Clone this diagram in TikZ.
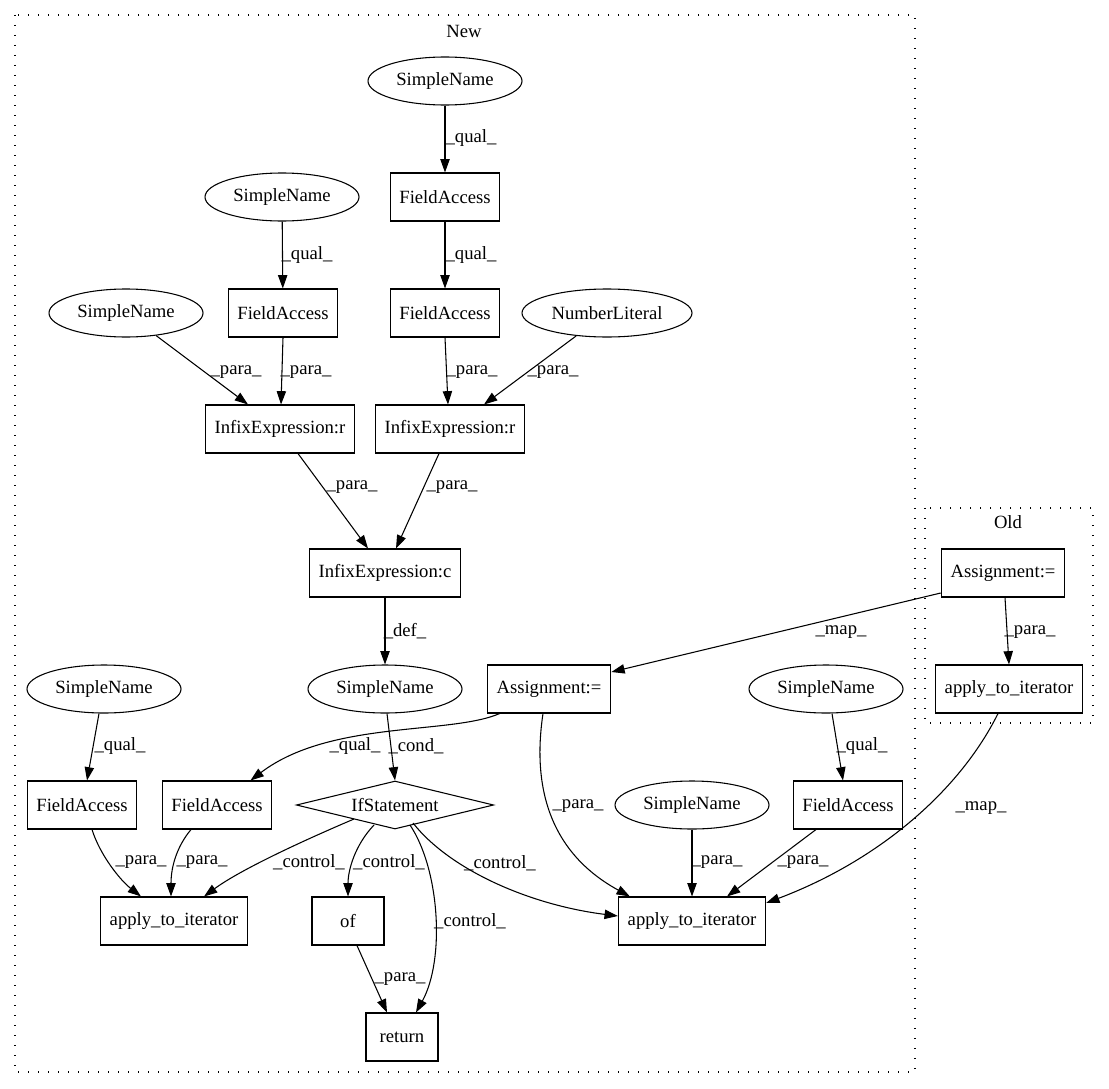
\documentclass[tikz,border=0pt]{standalone}
\usepackage{fontspec}
\setmainfont{Liberation Serif}
\usetikzlibrary{arrows.meta, positioning, shapes.geometric, calc}

\begin{document}
\begin{tikzpicture}[
    x=0.75pt, y=-0.75pt,
    font=\fontsize{14}{16}\selectfont,
    box/.style={rectangle, draw, line width=0.8pt, minimum height=36pt,
                minimum width=54pt, inner xsep=7pt},
    ident/.style={ellipse, draw, line width=0.8pt, minimum height=36pt,
                  minimum width=#1, inner sep=0pt},
    ident/.default=115.5pt,
    cond/.style={diamond, draw, line width=0.8pt, aspect=4, minimum width=148pt,
                 minimum height=36pt, inner sep=0pt},
    flow/.style={-{Triangle[length=10pt, width=7pt]}, line width=0.8pt},
    lbl/.style={inner sep=0pt},
    cluster/.style={draw, line width=1pt, dash pattern=on 1pt off 6.5pt},
  ]
    \useasboundingbox (0,0) rectangle (1109,1088);

    % clusters
    \draw[cluster] (15,15) rectangle (915,1072);
    \node (newTitle) at (464,31) {New};
    \draw[cluster] (925,508) rectangle (1093,723);
    \node (oldTitle) at (1008,522) {Old};

    % New
    \node[ident] (snTop) at (445,81) {SimpleName};
    \node[box] (faTop) at (445,197) {FieldAccess};
    \node[ident] (snA) at (282,197) {SimpleName};
    \node[box] (faA) at (283,313) {FieldAccess};
    \node[box] (faB) at (445,313) {FieldAccess};
    \node[ident] (snB) at (126,313) {SimpleName};
    \node[ident=127.5pt] (numLit) at (607,313) {NumberLiteral};
    \node[box] (infixL) at (280,429) {InfixExpression:r};
    \node[box] (infixR) at (450,429) {InfixExpression:r};
    \node[box] (infixC) at (385,573) {InfixExpression:c};
    \node[ident] (snDef) at (385,689) {SimpleName};
    \node[box] (asgNew) at (549,689) {Assignment:=};
    \node[ident] (snR) at (826,689) {SimpleName};
    \node[ident] (snL) at (104,689) {SimpleName};
    \node[box] (faL) at (82,805) {FieldAccess};
    \node[box] (faM) at (217,805) {FieldAccess};
    \node[cond] (ifSt) at (395,805) {IfStatement};
    \node[ident] (snMR) at (692,805) {SimpleName};
    \node[box] (faR) at (848,805) {FieldAccess};
    \node[box] (atiL) at (174,921) {apply\_to\_iterator};
    \node[box] (ofCall) at (348,921) {of};
    \node[box] (atiR) at (692,921) {apply\_to\_iterator};
    \node[box] (ret) at (402,1037) {return};

    % Old
    \node[box] (asgOld) at (1003,573) {Assignment:=};
    \node[box] (atiOld) at (1009,689) {apply\_to\_iterator};

    % edges
    \draw[flow] (snTop) -- (faTop);
    \draw[flow] (faTop) -- (faB);
    \draw[flow] (snA) -- (faA);
    \draw[flow] (snB) -- ($(infixL.north)+(-32,0)$);
    \draw[flow] (faA.south) -- ($(infixL.north)+(1,0)$);
    \draw[flow] (faB.south) -- ($(infixR.north)+(-2,0)$);
    \draw[flow] (numLit) -- ($(infixR.north)+(34,0)$);
    \draw[flow] ($(infixL.south)+(18,0)$) -- ($(infixC.north)+(-17,0)$);
    \draw[flow] ($(infixR.south)+(-11,0)$) -- ($(infixC.north)+(11,0)$);
    \draw[flow] (infixC) -- (snDef);
    \draw[flow] ($(snDef.south)+(2,0)$) -- (ifSt.north);
    \draw[flow] ($(asgNew.south west)+(13,0)$) .. controls (450,735) and (330,720)
      .. ($(faM.north east)+(-22,0)$);
    \draw[flow] ($(asgNew.south)+(-6,0)$) .. controls (533,780) and (545,850)
      .. ($(atiR.north west)+(12,0)$);
    \draw[flow] ($(snR.south)+(6,0)$) -- ($(faR.north)+(-5,0)$);
    \draw[flow] ($(snL.south)+(-5,0)$) -- ($(faL.north)+(5,0)$);
    \draw[flow] ($(faL.south)+(10,0)$) .. controls (100,855) and (120,880)
      .. ($(atiL.north)+(-33,0)$);
    \draw[flow] ($(faM.south)+(-26,0)$) .. controls (178,845) and (171,865)
      .. ($(atiL.north)+(-3,0)$);
    \draw[flow] ($(ifSt.center)+(-41,14)$) .. controls (300,842) and (240,870)
      .. ($(atiL.north)+(30,0)$);
    \draw[flow] ($(ifSt.center)+(-21,20)$) .. controls (355,845) and (348,870)
      .. (ofCall.north);
    \draw[flow] ($(ifSt.center)+(15,20)$) .. controls (440,870) and (445,960)
      .. ($(ret.north)+(14,0)$);
    \draw[flow] ($(ifSt.center)+(18,18)$) .. controls (450,870) and (530,905)
      .. ($(atiR.west)+(0,-5)$);
    \draw[flow] ($(ofCall.south)+(9,0)$) -- ($(ret.north)+(-15,0)$);
    \draw[flow] (snMR) -- (atiR);
    \draw[flow] ($(faR.south)+(-32,0)$) -- ($(atiR.north)+(35,0)$);
    \draw[flow] ($(asgOld.west)+(0,20)$) -- ($(asgNew.east)+(0,-17)$);
    \draw[flow] ($(asgOld.south)+(2,0)$) -- (atiOld.north);
    \draw[flow] ($(atiOld.south)+(-11,0)$) .. controls (960,790) and (880,860)
      .. ($(atiR.east)+(0,-18)$);

    % edge labels
    \node[lbl] (qualTop) at (471,138) {\_qual\_};
    \node[lbl] (qualFa) at (471,255) {\_qual\_};
    \node[lbl] (qualA) at (307,255) {\_qual\_};
    \node[lbl] (paraSnB) at (236,372) {\_para\_};
    \node[lbl] (paraFaA) at (306,372) {\_para\_};
    \node[lbl] (paraFaB) at (472,372) {\_para\_};
    \node[lbl] (paraNum) at (553,372) {\_para\_};
    \node[lbl] (paraInL) at (352,487) {\_para\_};
    \node[lbl] (paraInR) at (452,487) {\_para\_};
    \node[lbl] (defC) at (405,631) {\_def\_};
    \node[lbl] (condIf) at (416,746) {\_cond\_};
    \node[lbl] (qualAsg) at (355,746) {\_qual\_};
    \node[lbl] (paraAsg) at (578,806) {\_para\_};
    \node[lbl] (qualR) at (862,746) {\_qual\_};
    \node[lbl] (qualL) at (120,746) {\_qual\_};
    \node[lbl] (paraFaL) at (141,862) {\_para\_};
    \node[lbl] (paraFaM) at (202,862) {\_para\_};
    \node[lbl] (ctrlL) at (309,862) {\_control\_};
    \node[lbl] (ctrlOf) at (389,862) {\_control\_};
    \node[lbl] (ctrlRet) at (470,921) {\_control\_};
    \node[lbl] (ctrlR) at (500,863) {\_control\_};
    \node[lbl] (paraOf) at (400,979) {\_para\_};
    \node[lbl] (paraMR) at (717,862) {\_para\_};
    \node[lbl] (paraFaR) at (803,862) {\_para\_};
    \node[lbl] (mapAsg) at (841,632) {\_map\_};
    \node[lbl] (paraOld) at (1030,632) {\_para\_};
    \node[lbl] (mapAti) at (981,808) {\_map\_};
  \end{tikzpicture}
\end{document}
